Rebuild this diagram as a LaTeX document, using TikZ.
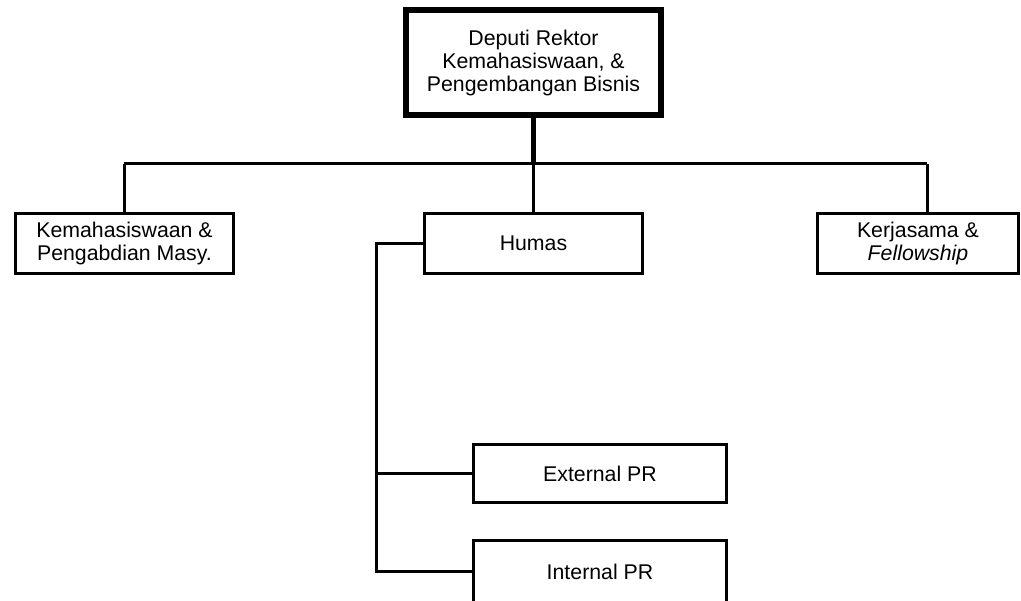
\documentclass[tikz,border=0pt]{standalone}
\usepackage{fontspec}
\setmainfont{Liberation Sans}
\usetikzlibrary{positioning}

\begin{document}
\begin{tikzpicture}[x=1pt,y=-1pt,on grid,node distance=180pt,
    font=\fontsize{21.3}{23}\selectfont,
    unit/.style={draw,line width=3pt,align=center,inner sep=0pt,
                 minimum width=218pt,minimum height=60pt},
    head/.style={unit,line width=6pt,minimum width=255pt,minimum height=105pt},
    link/.style={line width=3pt}]
   \clip (0,0) rectangle (1021,601);
   \node[head] (dr) at (533.5,62.5) {Deputi Rektor\\Kemahasiswaan, \&\\Pengembangan Bisnis};
   \node[unit] (humas)   [below=181pt of dr] {Humas};
   \node[unit] (mhs)     [left=409pt of humas] {Kemahasiswaan \&\\Pengabdian Masy.};
   \node[unit, minimum width=201pt] (kerja) [right=384.5pt of humas] {Kerjasama \&\\\textit{Fellowship}};
   \node[unit, minimum width=253pt, minimum height=58pt] (ext) [below right=230pt and 66.5pt of humas] {External PR};
   \node[unit, minimum width=253pt, minimum height=62pt] (int) [below=98.5pt of ext] {Internal PR};
   \coordinate (bus)  at (533.5,164);
   \coordinate (busL) at (124,164);
   \coordinate (busR) at (927,164);
   \coordinate (side) at (376,243.5);
   \draw[line width=4.5pt] (dr) -- (bus);
   \draw[link] (busL) -- (busR);
   \draw[link] (busL) -- (busL |- mhs.north);
   \draw[link] (busR) -- (busR |- kerja.north);
   \draw[link] (bus) -- (humas);
   \draw[link] (humas.west) -- (side) |- (int.west);
   \draw[link] (side |- ext.west) -- (ext.west);
\end{tikzpicture}
\end{document}
